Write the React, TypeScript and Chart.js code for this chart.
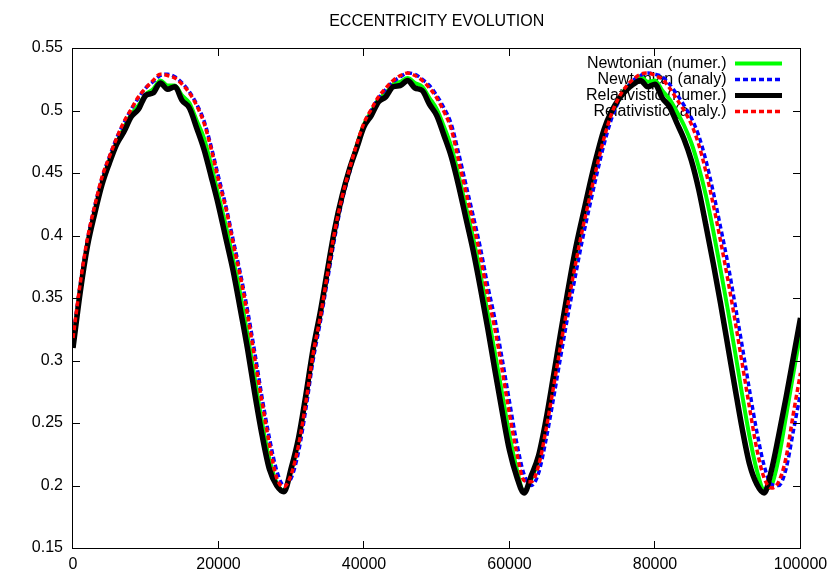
import React, { useEffect, useRef } from "react";
import { Chart, registerables } from "chart.js";

Chart.register(...registerables);

const TITLE = "ECCENTRICITY EVOLUTION";
const X_STEP = 1000; // sample spacing of the series below (time units)
const X_TICKS = [0, 20000, 40000, 60000, 80000, 100000];
const Y_TICKS = [0.15, 0.2, 0.25, 0.3, 0.35, 0.4, 0.45, 0.5, 0.55];
const LEGEND_LABELS = [
  "Newtonian (numer.)",
  "Newtonian (analy)",
  "Relativistic (numer.)",
  "Relativistic (analy.)",
];

const newtonianNumer = [
  0.312, 0.357, 0.394, 0.42, 0.443, 0.46, 0.474, 0.486, 0.497, 0.504,
  0.513, 0.517, 0.524, 0.52, 0.52, 0.512, 0.506, 0.492, 0.478, 0.456,
  0.432, 0.408, 0.381, 0.353, 0.32, 0.285, 0.25, 0.221, 0.202, 0.196,
  0.212, 0.235, 0.269, 0.307, 0.337, 0.371, 0.405, 0.432, 0.453, 0.472,
  0.489, 0.499, 0.509, 0.514, 0.521, 0.523, 0.526, 0.522, 0.519, 0.51,
  0.501, 0.487, 0.471, 0.448, 0.423, 0.398, 0.369, 0.338, 0.306, 0.273,
  0.24, 0.213, 0.195, 0.205, 0.221, 0.249, 0.281, 0.315, 0.349, 0.381,
  0.409, 0.435, 0.46, 0.481, 0.498, 0.508, 0.518, 0.522, 0.527, 0.523,
  0.524, 0.516, 0.509, 0.499, 0.488, 0.474, 0.455, 0.432, 0.404, 0.373,
  0.341, 0.307, 0.272, 0.239, 0.212, 0.197, 0.2, 0.222, 0.255, 0.289,
  0.322,
];

const newtonianAnaly = [
  0.317, 0.361, 0.397, 0.424, 0.446, 0.463, 0.478, 0.49, 0.501, 0.51,
  0.518, 0.523, 0.528, 0.529, 0.527, 0.522, 0.515, 0.505, 0.492, 0.471,
  0.447, 0.424, 0.397, 0.37, 0.34, 0.306, 0.27, 0.238, 0.212, 0.2,
  0.206, 0.227, 0.261, 0.3, 0.331, 0.365, 0.399, 0.428, 0.45, 0.471,
  0.488, 0.5, 0.51, 0.517, 0.523, 0.527, 0.53, 0.529, 0.525, 0.52,
  0.512, 0.502, 0.489, 0.466, 0.441, 0.416, 0.39, 0.36, 0.333, 0.301,
  0.267, 0.234, 0.209, 0.2, 0.21, 0.236, 0.268, 0.302, 0.335, 0.366,
  0.396, 0.423, 0.449, 0.473, 0.493, 0.507, 0.517, 0.524, 0.528, 0.53,
  0.529, 0.527, 0.521, 0.513, 0.504, 0.494, 0.48, 0.46, 0.435, 0.407,
  0.378, 0.345, 0.311, 0.276, 0.243, 0.216, 0.201, 0.2, 0.213, 0.243,
  0.274,
];

const relativisticNumer = [
  0.31, 0.355, 0.392, 0.418, 0.441, 0.458, 0.473, 0.483, 0.495, 0.501,
  0.512, 0.514, 0.522, 0.517, 0.519, 0.508, 0.502, 0.486, 0.469, 0.447,
  0.424, 0.398, 0.372, 0.341, 0.309, 0.273, 0.24, 0.213, 0.2, 0.195,
  0.214, 0.238, 0.272, 0.309, 0.339, 0.373, 0.406, 0.432, 0.453, 0.47,
  0.487, 0.496, 0.507, 0.511, 0.519, 0.52, 0.524, 0.518, 0.516, 0.505,
  0.496, 0.48, 0.463, 0.44, 0.414, 0.388, 0.358, 0.326, 0.292, 0.259,
  0.228, 0.207, 0.194, 0.208, 0.224, 0.252, 0.286, 0.321, 0.355, 0.387,
  0.414, 0.44, 0.464, 0.485, 0.499, 0.509, 0.516, 0.521, 0.524, 0.519,
  0.521, 0.51, 0.503, 0.49, 0.477, 0.46, 0.437, 0.408, 0.378, 0.346,
  0.312, 0.278, 0.245, 0.217, 0.201, 0.194, 0.212, 0.24, 0.27, 0.302,
  0.334,
];

const relativisticAnaly = [
  0.318, 0.362, 0.398, 0.424, 0.447, 0.463, 0.478, 0.491, 0.501, 0.511,
  0.518, 0.524, 0.529, 0.528, 0.526, 0.521, 0.514, 0.504, 0.49, 0.469,
  0.444, 0.422, 0.394, 0.367, 0.336, 0.301, 0.266, 0.233, 0.206, 0.199,
  0.209, 0.232, 0.266, 0.305, 0.335, 0.37, 0.404, 0.431, 0.453, 0.473,
  0.49, 0.501, 0.511, 0.518, 0.524, 0.528, 0.53, 0.528, 0.524, 0.518,
  0.51, 0.499, 0.485, 0.46, 0.435, 0.41, 0.383, 0.352, 0.325, 0.292,
  0.257, 0.226, 0.204, 0.203, 0.216, 0.244, 0.277, 0.311, 0.344, 0.375,
  0.404, 0.43, 0.455, 0.478, 0.497, 0.51, 0.519, 0.525, 0.529, 0.53,
  0.528, 0.525, 0.518, 0.509, 0.5, 0.489, 0.473, 0.451, 0.425, 0.396,
  0.365, 0.332, 0.297, 0.262, 0.229, 0.206, 0.198, 0.203, 0.222, 0.257,
  0.29,
];

const SERIES = [newtonianNumer, newtonianAnaly, relativisticNumer, relativisticAnaly];
const COLORS = ["#00ff00", "#0000ff", "#000000", "#ff0000"];
const WIDTHS = [4, 3.5, 5.5, 3.5];
const DASHES: number[][] = [[], [5, 3], [], [5, 3]];
const ORDERS = [4, 3, 2, 1];

const FONT = "'Liberation Sans', Arial, Helvetica, sans-serif";

const gnuplotKey = {
  id: "gnuplotKey",
  beforeDatasetsDraw(chart: any) {
    const { ctx, chartArea: a } = chart;
    ctx.save();
    ctx.fillStyle = "#000";
    ctx.font = `16px ${FONT}`;
    ctx.textAlign = "center";
    ctx.textBaseline = "middle";
    ctx.fillText(TITLE, (a.left + a.right) / 2, 22);

    ctx.textAlign = "right";
    LEGEND_LABELS.forEach((lab, i) => {
      const y = a.top + 15.5 + i * 16;
      ctx.fillStyle = "#000";
      ctx.fillText(lab, a.right - 74, y);
      ctx.beginPath();
      ctx.setLineDash(DASHES[i]);
      ctx.lineWidth = WIDTHS[i] > 4 ? 5 : WIDTHS[i];
      ctx.strokeStyle = COLORS[i];
      ctx.moveTo(a.right - 65.5, y);
      ctx.lineTo(a.right - 18.5, y);
      ctx.stroke();
    });
    ctx.restore();
  },
};

const gnuplotFrame = {
  id: "gnuplotFrame",
  afterDraw(chart: any) {
    const { ctx, scales } = chart;
    const xs = scales.x;
    const ys = scales.y;
    ctx.save();
    ctx.setLineDash([]);
    ctx.globalAlpha = 1;
    ctx.fillStyle = "#000000";
    const L = Math.round(xs.left) - 1;
    const R = Math.floor(xs.right);
    const T = Math.round(ys.top);
    const B = Math.round(ys.bottom);
    ctx.fillRect(L, T, R - L + 1, 1);
    ctx.fillRect(L, B, R - L + 1, 1);
    ctx.fillRect(L, T, 1, B - T + 1);
    ctx.fillRect(R, T, 1, B - T + 1);
    const tl = 7;
    X_TICKS.forEach((v) => {
      const px = Math.round(xs.getPixelForValue(v)) - 1;
      ctx.fillRect(px, B - tl, 1, tl);
      ctx.fillRect(px, T + 1, 1, tl);
    });
    Y_TICKS.forEach((v) => {
      const py = Math.round(ys.getPixelForValue(v));
      ctx.fillRect(L + 1, py, tl, 1);
      ctx.fillRect(R - tl, py, tl, 1);
    });
    ctx.restore();
  },
};

export default function App() {
  const ref = useRef<HTMLCanvasElement>(null);

  useEffect(() => {
    document.body.style.margin = "0";
    Chart.defaults.font.family = FONT;
    Chart.defaults.font.size = 16;
    Chart.defaults.color = "#000";

    const datasets = SERIES.map((vals, i) => ({
      label: LEGEND_LABELS[i],
      data: vals.map((v, k) => ({ x: k * X_STEP, y: v })),
      borderColor: COLORS[i],
      backgroundColor: COLORS[i],
      borderWidth: WIDTHS[i],
      borderDash: DASHES[i],
      borderJoinStyle: "round" as const,
      pointRadius: 0,
      cubicInterpolationMode: "monotone" as const,
      fill: false,
      order: ORDERS[i],
    }));

    const chart = new Chart(ref.current!, {
      type: "line",
      data: { datasets },
      options: {
        animation: false,
        responsive: false,
        devicePixelRatio: 1,
        layout: { padding: { top: 48, right: 29.5, left: 0, bottom: 0 } },
        plugins: {
          legend: { display: false },
          title: { display: false },
          tooltip: { enabled: false },
        },
        scales: {
          x: {
            type: "linear",
            min: 0,
            max: 100000,
            afterFit: (s: any) => {
              s.height = 33;
            },
            afterBuildTicks: (s: any) => {
              s.ticks = X_TICKS.map((v) => ({ value: v }));
            },
            ticks: {
              padding: 2,
              maxRotation: 0,
              autoSkip: false,
              callback: (v: any) => String(v),
              font: { size: 16, family: FONT, lineHeight: 1.85 },
              color: "#000",
            },
            grid: { display: false, drawTicks: false },
            border: { display: false },
          },
          y: {
            type: "linear",
            min: 0.15,
            max: 0.55,
            afterFit: (s: any) => {
              s.width = 73;
            },
            afterBuildTicks: (s: any) => {
              s.ticks = Y_TICKS.map((v) => ({ value: v }));
            },
            ticks: {
              padding: 10,
              autoSkip: false,
              callback: (v: any) => String(Math.round(Number(v) * 100) / 100),
              font: { size: 16, family: FONT },
              color: "#000",
            },
            grid: { display: false, drawTicks: false },
            border: { display: false },
          },
        },
      },
      plugins: [gnuplotKey, gnuplotFrame],
    });
    return () => chart.destroy();
  }, []);

  return (
    <div style={{ position: "absolute", left: 0, top: 0, width: 830, height: 581, background: "#fff" }}>
      <canvas ref={ref} width={830} height={581} style={{ display: "block" }} />
    </div>
  );
}
